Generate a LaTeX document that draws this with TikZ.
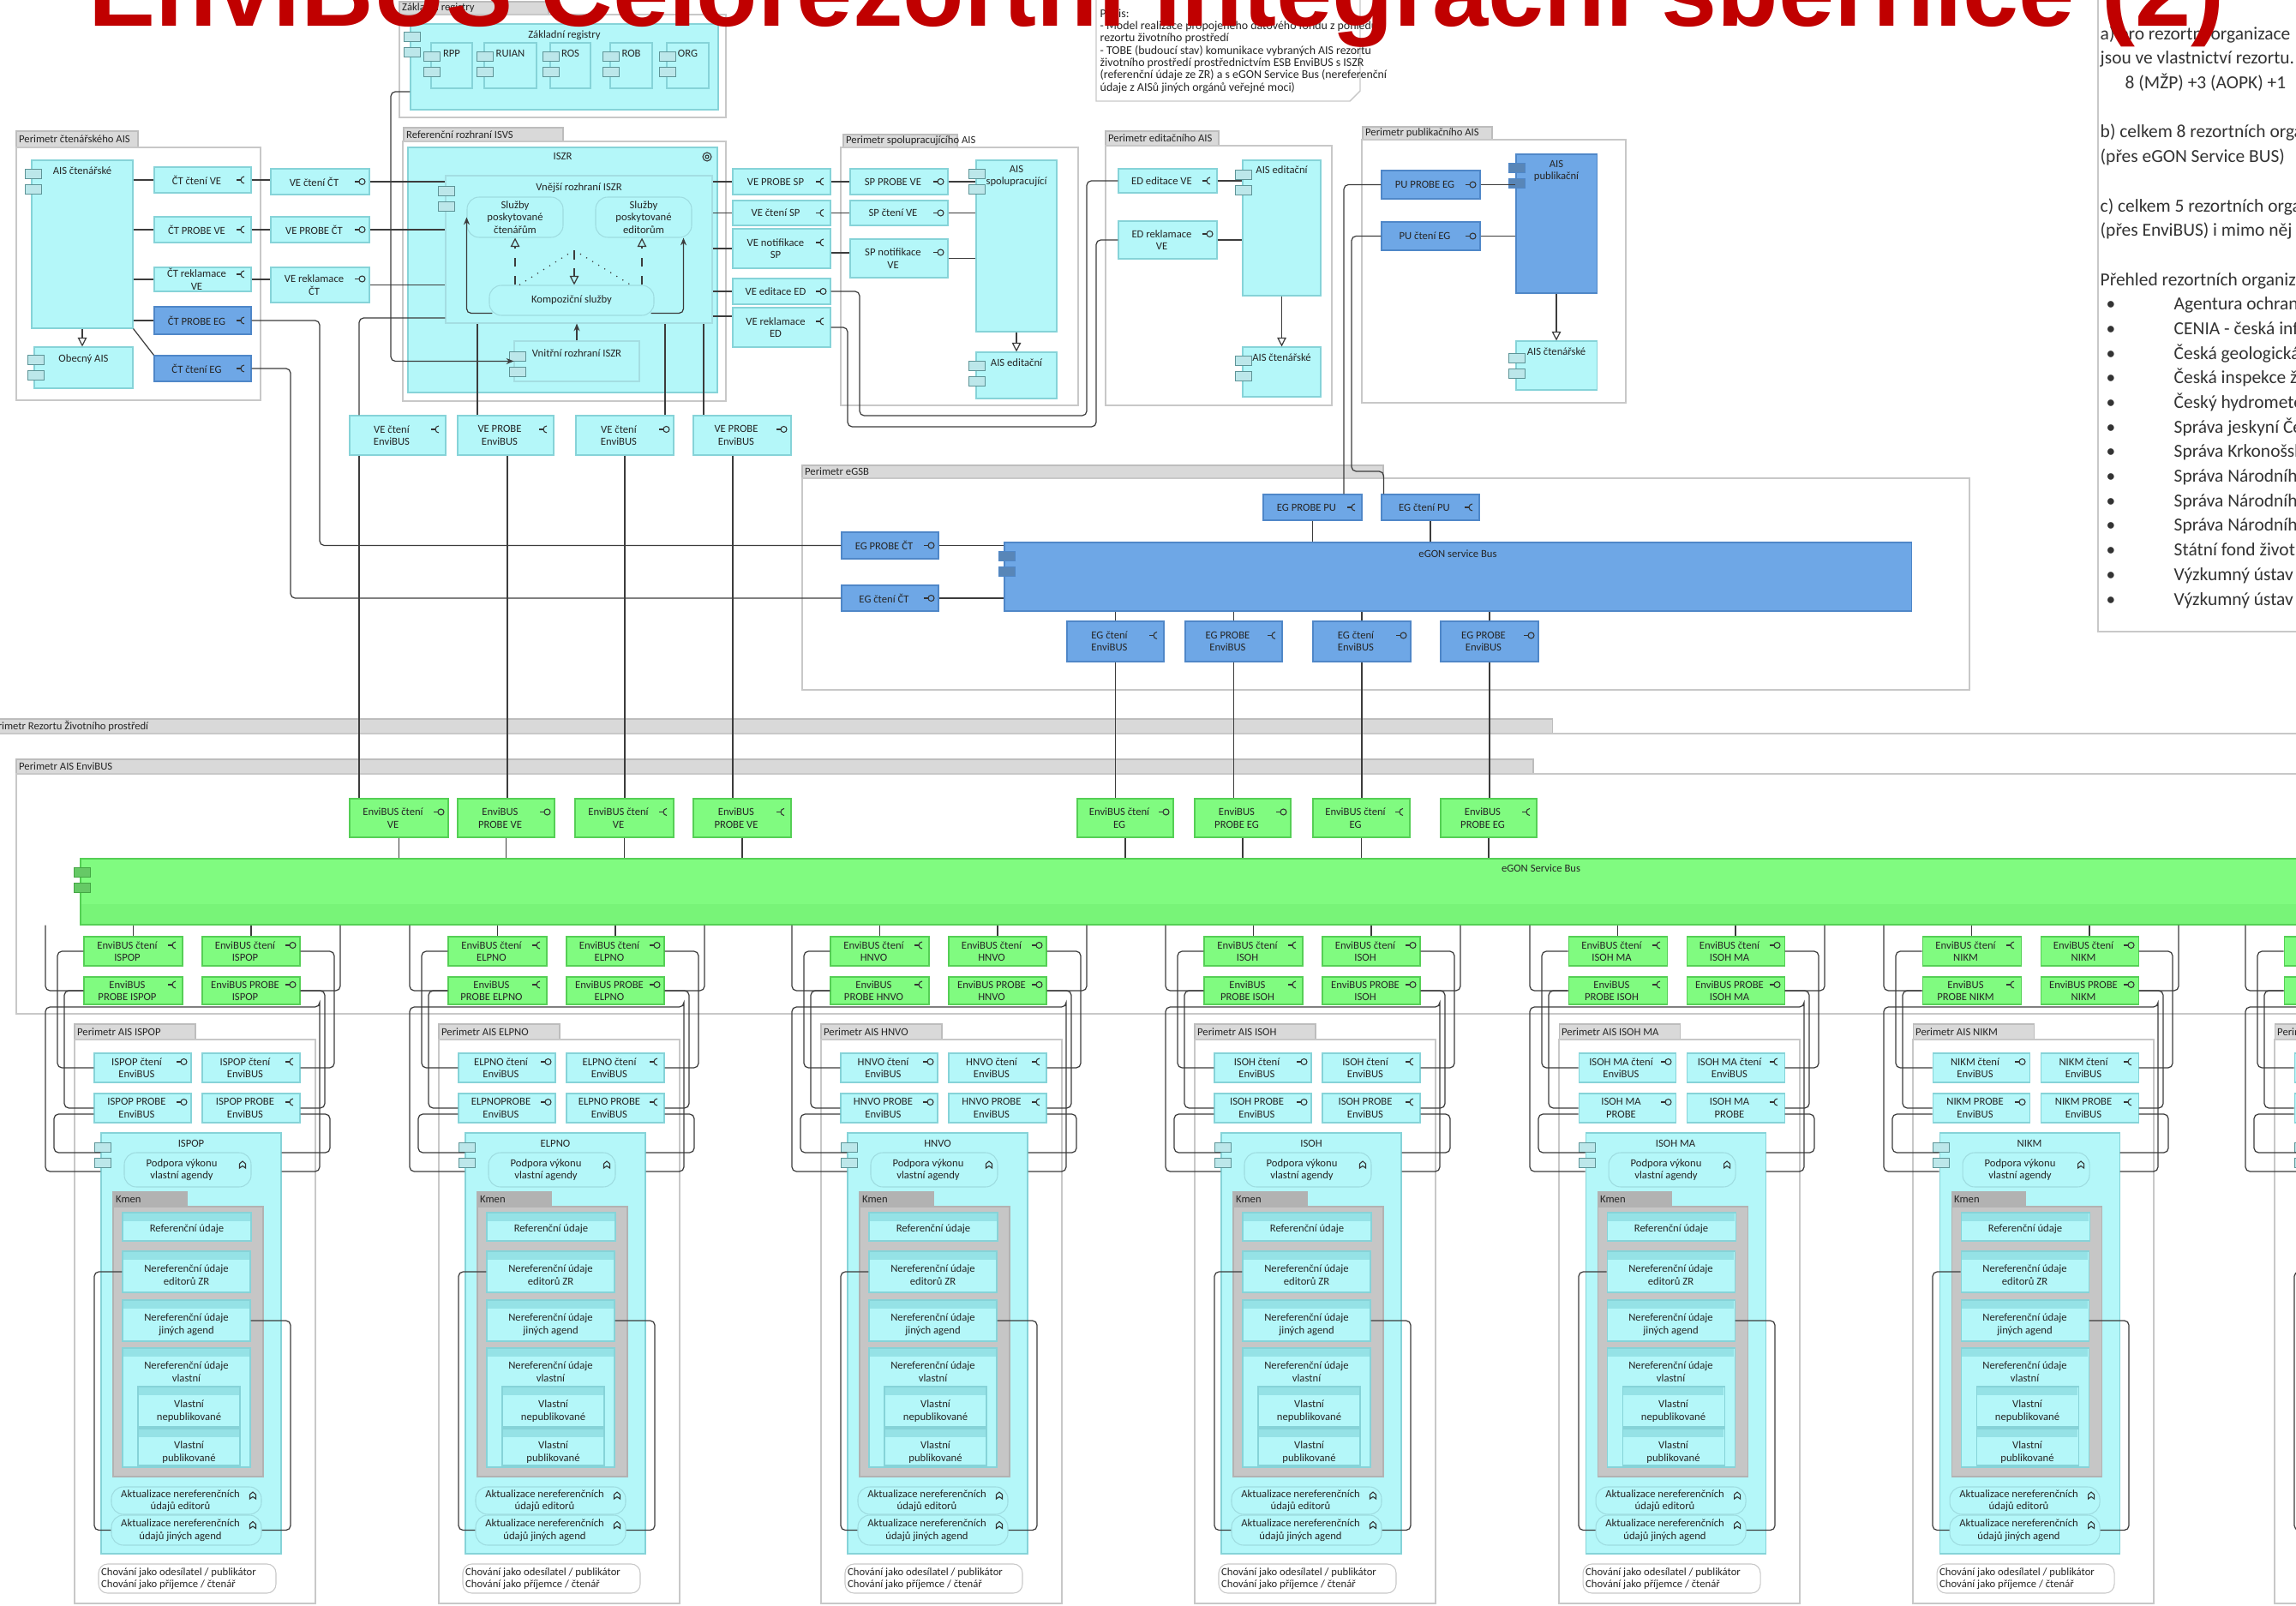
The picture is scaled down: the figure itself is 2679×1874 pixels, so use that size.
\documentclass[tikz,border=0pt]{standalone}
\usepackage{fontspec}
\setmainfont{Carlito}
\newfontfamily\titlefont{Liberation Sans}
\usetikzlibrary{calc,arrows.meta}
\definecolor{cyF}{HTML}{B4F7F9}
\definecolor{cyD}{HTML}{86D3D8}
\definecolor{cyBand}{HTML}{95E2E6}
\definecolor{blF}{HTML}{6EA7E6}
\definecolor{blD}{HTML}{4F87C8}
\definecolor{grF}{HTML}{80FB80}
\definecolor{grD}{HTML}{55CF55}
\definecolor{tabF}{HTML}{D9D9D9}
\definecolor{tabD}{HTML}{BDBDBD}
\definecolor{frD}{HTML}{C8C8C8}
\definecolor{kmF}{HTML}{C6C6C6}
\definecolor{kmT}{HTML}{B2B2B2}
\definecolor{lnC}{HTML}{3C3C3C}
\definecolor{ttl}{HTML}{C00000}
\tikzset{
 every node/.style={font=\fontsize{3.6}{4.1}\selectfont, inner sep=0pt, text=black!85},
 lbl/.style={align=center},
 pfont/.style={font=\fontsize{6.1}{7.2}\selectfont, text=black!80},
 conn/.style={draw=lnC, line width=0.35pt, rounded corners=1.5pt},
 cyb/.style={draw=cyD, fill=cyF, line width=0.3pt},
 svc/.style={draw=cyD!80, fill=cyF, line width=0.3pt, rounded corners=4pt},
 blb/.style={draw=blD, fill=blF, line width=0.3pt},
 grb/.style={draw=grD, fill=grF, line width=0.3pt},
 frm/.style={draw=frD, fill=white, line width=0.4pt},
 tabs/.style={draw=tabD, fill=tabF, line width=0.3pt},
 kmtab/.style={draw=kmT, fill=kmT, line width=0.3pt},
 kmb/.style={draw=kmT, fill=kmF, line width=0.3pt},
 notes/.style={draw=frD, fill=white, line width=0.3pt, rounded corners=3pt},
 cic/.style={draw=cyD!70!black, fill=cyD!55, line width=0.2pt},
 icl/.style={draw=black!80, line width=0.3pt},
 gen/.style={conn, -{Triangle[open,length=3pt,width=3pt]}},
 arr/.style={conn, -{Stealth[length=2.5pt,width=2pt]}},
 prov/.pic={\draw[icl] (-7,0)--(-2,0); \draw[icl] (1.5,0) circle[radius=3.5];},
 req/.pic={\draw[icl] (-7,0)--(-2,0); \draw[icl] (2,-4) arc[start angle=-90,end angle=-270,radius=4];},
 func/.pic={\draw[icl] (-3.5,4) -- (-3.5,-1) -- (0,-4) -- (3.5,-1) -- (3.5,4) -- (0,1.5) -- cycle;},
}
\newcommand\PBx[7]{\node[#6, minimum width={((#4)-(#2))*0.01cm}, minimum height={((#5)-(#3))*0.01cm}, align=center] (#1) at ({((#2)+(#4))/2},{((#3)+(#5))/2}) {#7};}
\newcommand\TBx[8]{\node[#6, minimum width={((#4)-(#2))*0.01cm}, minimum height={((#5)-(#3))*0.01cm}, label={[lbl, anchor=north, yshift={-(#8)*0.01cm}]north:{#7}}] (#1) at ({((#2)+(#4))/2},{((#3)+(#5))/2}) {};}
\newcommand\IBx[9]{\node[#6, minimum width={((#4)-(#2))*0.01cm}, minimum height={((#5)-(#3))*0.01cm}, label={[lbl, xshift=-0.07cm]center:{#7}}] (#1) at ({((#2)+(#4))/2},{((#3)+(#5))/2}) {};\pic at ({(#4)-10},{((#3)+(#5))/2+(#9)}) {#8};}
\newcommand\TAs[7]{\node[#6, minimum width={((#4)-(#2))*0.01cm}, minimum height={((#5)-(#3))*0.01cm}, label={[anchor=west, align=left, xshift=0.03cm]west:{#7}}] (#1) at ({((#2)+(#4))/2},{((#3)+(#5))/2}) {};}
\newcommand\DBx[7]{\TBx{#1}{#2}{#3}{#4}{#5}{cyb}{#6}{#7}\fill[cyBand] ({(#2)+0.6},{(#3)+0.6}) rectangle ({(#4)-0.6},{(#3)+10});}
\newcommand\CIc[2]{\draw[cic] ({#1},{#2}) rectangle ++(19,11); \draw[cic] ({#1},{(#2)+18}) rectangle ++(19,11);}
\newcommand\AIScol[6]{%
\def\cx{#1}%
\TAs{#2tab}{\cx-11}{1195}{\cx+130}{1213}{tabs}{Perimetr AIS #3}%
\PBx{#2fr}{\cx-11}{1213}{\cx+270}{1871}{frm}{}%
\IBx{#2A}{\cx}{1093}{\cx+115}{1127}{grb}{EnviBUS čtení\\#3}{req}{-7}%
\IBx{#2B}{\cx+138}{1093}{\cx+252}{1127}{grb}{EnviBUS čtení\\#3}{prov}{-7}%
\IBx{#2C}{\cx}{1140}{\cx+115}{1172}{grb}{EnviBUS\\#4}{req}{-7}%
\IBx{#2D}{\cx+138}{1140}{\cx+252}{1172}{grb}{EnviBUS PROBE\\#3}{prov}{-7}%
\IBx{#2E}{\cx+12}{1229}{\cx+125}{1263}{cyb}{#3 čtení\\EnviBUS}{prov}{-7}%
\IBx{#2F}{\cx+138}{1229}{\cx+252}{1263}{cyb}{#3 čtení\\EnviBUS}{req}{-7}%
\IBx{#2G}{\cx+12}{1276}{\cx+125}{1310}{cyb}{#5}{prov}{-7}%
\IBx{#2H}{\cx+138}{1276}{\cx+252}{1310}{cyb}{#6}{req}{-7}%
\TBx{#2S}{\cx+20}{1322}{\cx+230}{1813}{cyb}{#3}{8}%
\CIc{\cx+12}{1333}%
\IBx{#2P}{\cx+47}{1345}{\cx+195}{1385}{svc}{Podpora výkonu\\vlastní agendy}{func}{-6}%
\TAs{#2kt}{\cx+34}{1391}{\cx+120}{1408}{kmtab}{Kmen}%
\PBx{#2K}{\cx+34}{1408}{\cx+209}{1723}{kmb}{}%
\DBx{#2R}{\cx+45}{1415}{\cx+195}{1448}{Referenční údaje}{14}%
\DBx{#2ZR}{\cx+45}{1460}{\cx+194}{1508}{Nereferenční údaje\\editorů ZR}{16}%
\DBx{#2JA}{\cx+45}{1517}{\cx+194}{1565}{Nereferenční údaje\\jiných agend}{16}%
\DBx{#2VL}{\cx+45}{1573}{\cx+194}{1712}{Nereferenční údaje\\vlastní}{16}%
\DBx{#2VN}{\cx+63}{1618}{\cx+182}{1665}{Vlastní\\nepublikované}{16}%
\DBx{#2VP}{\cx+63}{1667}{\cx+182}{1710}{Vlastní\\publikované}{15}%
\IBx{#2AE}{\cx+32}{1735}{\cx+207}{1767}{svc}{Aktualizace nereferenčních\\údajů editorů}{func}{-6}%
\IBx{#2AJ}{\cx+32}{1768}{\cx+207}{1803}{svc}{Aktualizace nereferenčních\\údajů jiných agend}{func}{-6}%
\TAs{#2N}{\cx+17}{1825}{\cx+224}{1859}{notes}{Chování jako odesílatel / publikátor\\Chování jako příjemce / čtenář}%
\coordinate (#2l1) at ({\cx-45},1150);
\coordinate (#2r1) at ({\cx+299},1150);
\coordinate (#2l2) at ({\cx-31},1180);
\coordinate (#2r2) at ({\cx+292},1180);
\coordinate (#2l3) at ({\cx-23},1220);
\coordinate (#2r3) at ({\cx+281},1220);
\coordinate (#2l4) at ({\cx-45},1175);
\coordinate (#2r4) at ({\cx+275},1175);
\coordinate (#2l5) at ({\cx-35},1300);
\coordinate (#2r5) at ({\cx+287},1300);
\coordinate (#2cl) at ({\cx+12},1600);
\coordinate (#2cr) at ({\cx+241},1650);
\draw[conn] (#2A.north) -- (#2A.north |- egb.south);
\draw[conn] (#2B.north) -- (#2B.north |- egb.south);
\draw[conn] (egb.south -| #2l1) |- (#2C.west);
\draw[conn] (egb.south -| #2r1) |- (#2D.east);
\draw[conn] (#2A.west) -| (#2l2) |- (#2E.west);
\draw[conn] (#2B.east) -| (#2r2) |- (#2F.east);
\draw[conn] (#2C.west) -| (#2l3) |- (#2G.west);
\draw[conn] (#2D.east) -| (#2r3) |- (#2H.east);
\draw[conn] (#2S.west |- 0,1367) -| (#2l4) -| (#2r4) |- (#2S.east |- 0,1367);
\draw[conn] (#2G.west |- #2l5) -| ({\cx-35},1345) -- (#2S.west |- 0,1345);
\draw[conn] (#2H.east |- #2r5) -| ({\cx+287},1345) -- (#2S.east |- 0,1345);
\draw[conn] (#2ZR.west) -| (#2cl) |- (#2AJ.west);
\draw[conn] (#2JA.east) -| (#2cr) |- (#2AJ.east);
}
\begin{document}
\begin{tikzpicture}[x=0.01cm,y=-0.01cm]
\useasboundingbox (0,0) rectangle (2679,1874);
\clip (0,0) rectangle (2679,1874);
% ================= large perimeters
\TAs{trez}{-18}{839}{1811}{856}{tabs}{Perimetr Rezortu Životního prostředí}
\PBx{frez}{-18}{856}{2760}{1950}{frm}{}
\TAs{tenv}{19}{886}{1789}{903}{tabs}{Perimetr AIS EnviBUS}
\PBx{fenv}{19}{903}{2760}{1183}{frm}{}
% ================= right panel
\PBx{panel}{2448}{-5}{2760}{737}{frm}{}
\foreach \yy/\ptx [count=\k] in {47/{a) pro rezortní organizace},75/{jsou ve vlastnictví rezortu.},161/{b) celkem 8 rezortních organizací},190/{(přes eGON Service BUS)},248/{c) celkem 5 rezortních organizací},276/{(přes EnviBUS) i mimo něj},334/{Přehled rezortních organizací}}
 {\node[pfont, anchor=base west] (pl\k) at (2450,\yy) {\ptx};}
\node[pfont, anchor=base west] (pl8) at (2479,104) {8 (MŽP) +3 (AOPK) +1};
\foreach \ptx [count=\k] in {Agentura ochrany přírody a krajiny ČR,CENIA - česká informační agentura,Česká geologická služba,Česká inspekce životního prostředí,Český hydrometeorologický ústav,Správa jeskyní České republiky,Správa Krkonošského národního parku,Správa Národního parku Podyjí,Správa Národního parku Šumava,Správa Národního parku České Švýcarsko,Státní fond životního prostředí ČR,Výzkumný ústav Silva Taroucy,Výzkumný ústav vodohospodářský}
 {\node[pfont, anchor=base west] (pb\k) at (2457,{333+28.7*\k}) {•};
  \node[pfont, anchor=base west] (pt\k) at (2536,{333+28.7*\k}) {\ptx};}
% ================= note
\draw[frm] (1279,-5) -- (1587,-5) -- (1587,106) -- (1575,118) -- (1279,118) -- cycle;
\node[anchor=north west, align=left, font=\fontsize{3.95}{4.07}\selectfont] (notetxt) at (1283,10) {Popis:\\- Model realizace propojeného datového fondu z pohledu\\rezortu životního prostředí\\- TOBE (budoucí stav) komunikace vybraných AIS rezortu\\životního prostředí prostřednictvím ESB EnviBUS s ISZR\\(referenční údaje ze ZR) a s eGON Service Bus (nereferenční\\údaje z AISů jiných orgánů veřejné moci)};
% ================= Perimetr čtenářského AIS
\TAs{t1}{19}{153}{161}{172}{tabs}{Perimetr čtenářského AIS}
\PBx{f1}{19}{172}{304}{467}{frm}{}
\TBx{aisct}{37}{187}{155}{383}{cyb}{AIS čtenářské}{8}
\CIc{29}{197}
\TBx{obecny}{40}{405}{155}{453}{cyb}{Obecný AIS}{9}
\CIc{32}{414}
\IBx{ctVE}{180}{195}{293}{225}{cyb}{ČT čtení VE}{req}{0}
\IBx{ctPVE}{180}{253}{293}{283}{cyb}{ČT PROBE VE}{req}{0}
\IBx{ctRVE}{180}{312}{293}{340}{cyb}{ČT reklamace\\VE}{req}{-6}
\IBx{ctPEG}{180}{358}{293}{390}{blb}{ČT PROBE EG}{req}{0}
\IBx{ctEG}{180}{415}{293}{445}{blb}{ČT čtení EG}{req}{0}
\IBx{veCT}{316}{197}{431}{227}{cyb}{VE čtení ČT}{prov}{0}
\IBx{vePCT}{316}{253}{431}{283}{cyb}{VE PROBE ČT}{prov}{0}
\IBx{veRCT}{316}{312}{431}{353}{cyb}{VE reklamace\\ČT}{prov}{-7}
% ================= Základní registry
\TAs{tzr}{466}{2}{640}{17}{tabs}{Základní registry}
\PBx{fzr}{466}{17}{847}{137}{frm}{}
\TBx{zr}{479}{28}{838}{128}{cyb}{Základní registry}{8}
\CIc{471}{37}
\TBx{rpp}{503}{50}{551}{103}{cyb}{RPP}{8}\CIc{494}{60}
\TBx{ruian}{565}{50}{626}{103}{cyb}{RUIAN}{8}\CIc{556}{60}
\TBx{ros}{642}{50}{689}{103}{cyb}{ROS}{8}\CIc{633}{60}
\TBx{rob}{712}{50}{761}{103}{cyb}{ROB}{8}\CIc{703}{60}
\TBx{org}{778}{50}{827}{103}{cyb}{ORG}{8}\CIc{769}{60}
% ================= Referenční rozhraní ISVS
\TAs{tisvs}{471}{149}{657}{165}{tabs}{Referenční rozhraní ISVS}
\PBx{fisvs}{470}{165}{847}{468}{frm}{}
\TBx{iszr}{476}{172}{837}{458}{cyb}{ISZR}{6}
\draw[icl] (825,183) circle[radius=5]; \draw[icl] (825,183) circle[radius=2];
\TBx{vnejsi}{520}{205}{831}{377}{cyb, draw=cyD!75}{Vnější rozhraní ISZR}{9}
\CIc{511}{217}
\PBx{slc}{545}{230}{657}{277}{svc}{Služby\\poskytované\\čtenářům}
\PBx{sle}{695}{230}{807}{277}{svc}{Služby\\poskytované\\editorům}
\PBx{komp}{571}{333}{763}{368}{svc}{Kompoziční služby}
\TBx{vnitrni}{600}{398}{746}{445}{cyb, draw=cyD!75}{Vnitřní rozhraní ISZR}{10}
\CIc{594}{410}
\IBx{veEB1}{408}{485}{520}{531}{cyb}{VE čtení\\EnviBUS}{req}{-7}
\IBx{veEB2}{534}{485}{646}{531}{cyb}{VE PROBE\\EnviBUS}{req}{-7}
\IBx{veEB3}{672}{485}{786}{531}{cyb}{VE čtení\\EnviBUS}{prov}{-7}
\IBx{veEB4}{809}{485}{923}{531}{cyb}{VE PROBE\\EnviBUS}{prov}{-7}
% ================= VE to SP / ED
\IBx{vePSP}{855}{197}{969}{227}{cyb}{VE PROBE SP}{req}{0}
\IBx{veSP}{855}{234}{969}{263}{cyb}{VE čtení SP}{req}{0}
\IBx{veNSP}{855}{267}{969}{313}{cyb}{VE notifikace\\SP}{req}{-7}
\IBx{veED}{855}{325}{969}{355}{cyb}{VE editace ED}{prov}{0}
\IBx{veRED}{855}{359}{969}{405}{cyb}{VE reklamace\\ED}{req}{-7}
% ================= Perimetr spolupracujícího AIS
\TAs{tsp}{984}{157}{1117}{172}{tabs}{Perimetr spolupracujícího AIS}
\PBx{fsp}{981}{172}{1258}{473}{frm}{}
\IBx{spPVE}{992}{197}{1106}{227}{cyb}{SP PROBE VE}{prov}{0}
\IBx{spVE}{992}{234}{1106}{263}{cyb}{SP čtení VE}{prov}{0}
\IBx{spNVE}{992}{279}{1106}{324}{cyb}{SP notifikace\\VE}{prov}{-7}
\TBx{aisSP}{1139}{187}{1233}{387}{cyb}{AIS\\spolupracující}{6}
\CIc{1130}{197}
\TBx{aisED1}{1139}{411}{1233}{465}{cyb}{AIS editační}{8}
\CIc{1130}{421}
% ================= Perimetr editačního AIS
\TAs{ted}{1290}{153}{1422}{170}{tabs}{Perimetr editačního AIS}
\PBx{fed}{1290}{170}{1554}{473}{frm}{}
\IBx{edVE}{1305}{197}{1420}{225}{cyb}{ED editace VE}{req}{0}
\IBx{edRVE}{1305}{258}{1420}{302}{cyb}{ED reklamace\\VE}{prov}{-7}
\TBx{aisED2}{1450}{187}{1541}{345}{cyb}{AIS editační}{7}
\CIc{1441}{198}
\TBx{aisCT2}{1450}{405}{1541}{463}{cyb}{AIS čtenářské}{8}
\CIc{1441}{415}
% ================= Perimetr publikačního AIS
\TAs{tpu}{1590}{148}{1741}{163}{tabs}{Perimetr publikačního AIS}
\PBx{fpu}{1589}{163}{1897}{470}{frm}{}
\IBx{puPEG}{1612}{199}{1727}{232}{blb}{PU PROBE EG}{prov}{0}
\IBx{puEG}{1612}{259}{1727}{292}{blb}{PU čtení EG}{prov}{0}
\TBx{aisPU}{1769}{180}{1863}{342}{blb}{AIS\\publikační}{7}
\draw[cic, fill=blF!80!black, draw=blD] (1760,190) rectangle ++(19,11); \draw[cic, fill=blF!80!black, draw=blD] (1760,208) rectangle ++(19,11);
\TBx{aisCT3}{1769}{398}{1863}{455}{cyb}{AIS čtenářské}{8}
\CIc{1760}{412}
% ================= Perimetr eGSB
\TAs{tegsb}{936}{543}{1614}{558}{tabs}{Perimetr eGSB}
\PBx{fegsb}{936}{558}{2298}{805}{frm}{}
\IBx{egPPU}{1474}{577}{1589}{607}{blb}{EG PROBE PU}{req}{0}
\IBx{egPU}{1612}{577}{1726}{607}{blb}{EG čtení PU}{req}{0}
\IBx{egPCT}{982}{621}{1095}{652}{blb}{EG PROBE ČT}{prov}{0}
\IBx{egCT}{982}{683}{1095}{713}{blb}{EG čtení ČT}{prov}{0}
\TBx{egon}{1172}{633}{2230}{713}{blb}{eGON service Bus}{9}
\draw[cic, fill=blF!80!black, draw=blD] (1165,643) rectangle ++(19,11); \draw[cic, fill=blF!80!black, draw=blD] (1165,661) rectangle ++(19,11);
\IBx{egEB1}{1245}{725}{1358}{772}{blb}{EG čtení\\EnviBUS}{req}{-7}
\IBx{egEB2}{1383}{725}{1496}{772}{blb}{EG PROBE\\EnviBUS}{req}{-7}
\IBx{egEB3}{1532}{725}{1646}{772}{blb}{EG čtení\\EnviBUS}{prov}{-7}
\IBx{egEB4}{1681}{725}{1795}{772}{blb}{EG PROBE\\EnviBUS}{prov}{-7}
% ================= EnviBUS top interfaces + bus
\IBx{gVE1}{408}{932}{523}{977}{grb}{EnviBUS čtení\\VE}{prov}{-7}
\IBx{gVE2}{534}{932}{647}{977}{grb}{EnviBUS\\PROBE VE}{prov}{-7}
\IBx{gVE3}{671}{932}{786}{977}{grb}{EnviBUS čtení\\VE}{req}{-7}
\IBx{gVE4}{809}{932}{923}{977}{grb}{EnviBUS\\PROBE VE}{req}{-7}
\IBx{gEG1}{1257}{932}{1369}{977}{grb}{EnviBUS čtení\\EG}{prov}{-7}
\IBx{gEG2}{1394}{932}{1506}{977}{grb}{EnviBUS\\PROBE EG}{prov}{-7}
\IBx{gEG3}{1532}{932}{1645}{977}{grb}{EnviBUS čtení\\EG}{req}{-7}
\IBx{gEG4}{1681}{932}{1793}{977}{grb}{EnviBUS\\PROBE EG}{req}{-7}
\TBx{egb}{94}{1002}{3502}{1079}{grb}{eGON Service Bus}{7}
\fill[grF!85!green!90!black, opacity=0.25] (94.5,1055) rectangle (3500,1078.5);
\draw[cic, fill=grF!80!black, draw=grD!80!black] (86,1012) rectangle ++(19,11); \draw[cic, fill=grF!80!black, draw=grD!80!black] (86,1030) rectangle ++(19,11);
% ================= columns
\AIScol{98}{a}{ISPOP}{PROBE ISPOP}{ISPOP PROBE\\EnviBUS}{ISPOP PROBE\\EnviBUS}
\AIScol{523}{b}{ELPNO}{PROBE ELPNO}{ELPNOPROBE\\EnviBUS}{ELPNO PROBE\\EnviBUS}
\AIScol{969}{c}{HNVO}{PROBE HNVO}{HNVO PROBE\\EnviBUS}{HNVO PROBE\\EnviBUS}
\AIScol{1405}{d}{ISOH}{PROBE ISOH}{ISOH PROBE\\EnviBUS}{ISOH PROBE\\EnviBUS}
\AIScol{1830}{e}{ISOH MA}{PROBE ISOH}{ISOH MA\\PROBE}{ISOH MA\\PROBE}
\AIScol{2243}{f}{NIKM}{PROBE NIKM}{NIKM PROBE\\EnviBUS}{NIKM PROBE\\EnviBUS}
\AIScol{2665}{g}{}{PROBE}{PROBE\\EnviBUS}{PROBE\\EnviBUS}
% ================= connectors: top-left
\draw[conn] (aisct.east |- ctVE.west) -- (ctVE.west);
\draw[conn] (aisct.east |- ctPVE.west) -- (ctPVE.west);
\draw[conn] (aisct.east |- ctRVE.west) -- (ctRVE.west);
\draw[conn] (aisct.east |- ctPEG.west) -- (ctPEG.west);
\draw[conn] (aisct.south east) -- (ctEG.north west);
\draw[gen] (aisct.south) -- (aisct.south |- obecny.north);
\draw[conn] (ctVE.east) -- (veCT.west |- ctVE.east);
\draw[conn] (ctPVE.east) -- (vePCT.west |- ctPVE.east);
\draw[conn] (ctRVE.east) -- (veRCT.west |- ctRVE.east);
\draw[conn] (veCT.east) -- (vnejsi.west |- veCT.east);
\draw[conn] (vePCT.east) -- (vnejsi.west |- vePCT.east);
\draw[conn] (veRCT.east) -- (vnejsi.west |- veRCT.east);
\draw[conn] (ctPEG.east) -| (373,500) |- (egPCT.west);
\draw[conn] (ctEG.east) -| (339,560) |- (egCT.west);
\draw[arr] (zr.west |- 0,107) -| (456,300) |- (vnitrni.west);
% ISZR internals
\draw[conn, dashed, -{Triangle[open,length=3pt,width=3pt]}] (komp.north -| 601,0) -- (slc.south -| 601,0);
\draw[conn, dashed, -{Triangle[open,length=3pt,width=3pt]}] (komp.north -| 749,0) -- (sle.south -| 749,0);
\draw[conn, dotted] (komp.north -| 606,0) -- (670,292) -- (komp.north -| 736,0);
\draw[conn, dashed, -{Triangle[open,length=3pt,width=3pt]}] (670,292) -- (komp.north -| 670,0);
\draw[arr] (komp.south west) ++(4,-3) -| (slc.west);
\draw[arr] (komp.south east) ++(-4,-3) -| ([xshift=-0.1cm]sle.south east);
\draw[arr] (vnitrni.north) -- (vnejsi.south -| vnitrni.north);
\draw[conn] (veEB1.north -| 419,0) |- (vnejsi.west |- 0,371);
\draw[conn] ([xshift=-0.33cm]veEB2.north) -- ([xshift=-0.33cm]veEB2.north |- vnejsi.south);
\draw[conn] ([xshift=0.47cm]veEB3.north) -- ([xshift=0.47cm]veEB3.north |- vnejsi.south);
\draw[conn] ([xshift=-0.45cm]veEB4.north) -- ([xshift=-0.45cm]veEB4.north |- vnejsi.south);
\draw[conn] ([xshift=-0.45cm]veEB1.south) -- ([xshift=-0.45cm]veEB1.south |- gVE1.north);
\draw[conn] ([xshift=0.02cm]veEB2.south) -- ([xshift=0.02cm]veEB2.south |- gVE2.north);
\draw[conn] (veEB3.south) -- (veEB3.south |- gVE3.north);
\draw[conn] ([xshift=-0.11cm]veEB4.south) -- ([xshift=-0.11cm]veEB4.south |- gVE4.north);
% VE right side
\draw[conn] (vnejsi.east |- vePSP.west) -- (vePSP.west);
\draw[conn] (vnejsi.east |- veSP.west) -- (veSP.west);
\draw[conn] (vnejsi.east |- veNSP.west) -- (veNSP.west);
\draw[conn] (vnejsi.east |- veED.west) -- (veED.west);
\draw[conn] (vnejsi.east |- 0,369) -- (veRED.west |- 0,369);
\draw[conn] (vePSP.east) -- (spPVE.west |- vePSP.east);
\draw[conn] (veSP.east) -- (spVE.west |- veSP.east);
\draw[conn] (veNSP.east |- 0,295) -- (spNVE.west |- 0,295);
\draw[conn] (spPVE.east) -- (aisSP.west |- spPVE.east);
\draw[conn] (spVE.east) -- (aisSP.west |- spVE.east);
\draw[conn] (spNVE.east) -- (aisSP.west |- spNVE.east);
\draw[gen] (aisSP.south) -- (aisED1.north);
\draw[conn] (veED.east) -- (1003,340) -- (1003,485) -- (1268,485) -- (1268,211) -- (edVE.west);
\draw[conn] (veRED.east) -- (989,382) -- (989,498) -- (1279,498) -- (1279,280) -- (edRVE.west);
\draw[conn] (edVE.east) -- (aisED2.west |- edVE.east);
\draw[conn] (edRVE.east) -- (aisED2.west |- edRVE.east);
\draw[gen] (aisED2.south) -- (aisCT2.north);
\draw[conn] (puPEG.east) -- (aisPU.west |- puPEG.east);
\draw[conn] (puEG.east) -- (aisPU.west |- puEG.east);
\draw[gen] (aisPU.south) -- (aisCT3.north);
\draw[conn] (puPEG.west) -| ([xshift=0.365cm]egPPU.north);
\draw[conn] (puEG.west) -| (1577,550) -| ([xshift=0.03cm]egPU.north west);
% eGSB
\draw[conn] (egPPU.south) -- (egPPU.south |- egon.north);
\draw[conn] (egPU.south) -- (egPU.south |- egon.north);
\draw[conn] (egPCT.east) -- (egon.west |- egPCT.east);
\draw[conn] (egCT.east) -- (egon.west |- egCT.east);
\foreach \n in {1,2,3,4}{
 \draw[conn] (egEB\n.north) -- (egEB\n.north |- egon.south);
 \draw[conn] (egEB\n.south) -- (egEB\n.south |- gEG\n.north);
 \draw[conn] (gEG\n.south) -- (gEG\n.south |- egb.north);
 \draw[conn] (gVE\n.south) -- (gVE\n.south |- egb.north);}
% ================= title
\node[font=\titlefont\bfseries\fontsize{33.3}{36}\selectfont, text=ttl, anchor=base west] (title) at (103,31) {EnviBUS Celorezortní integrační sběrnice (2)};
\end{tikzpicture}
\end{document}
